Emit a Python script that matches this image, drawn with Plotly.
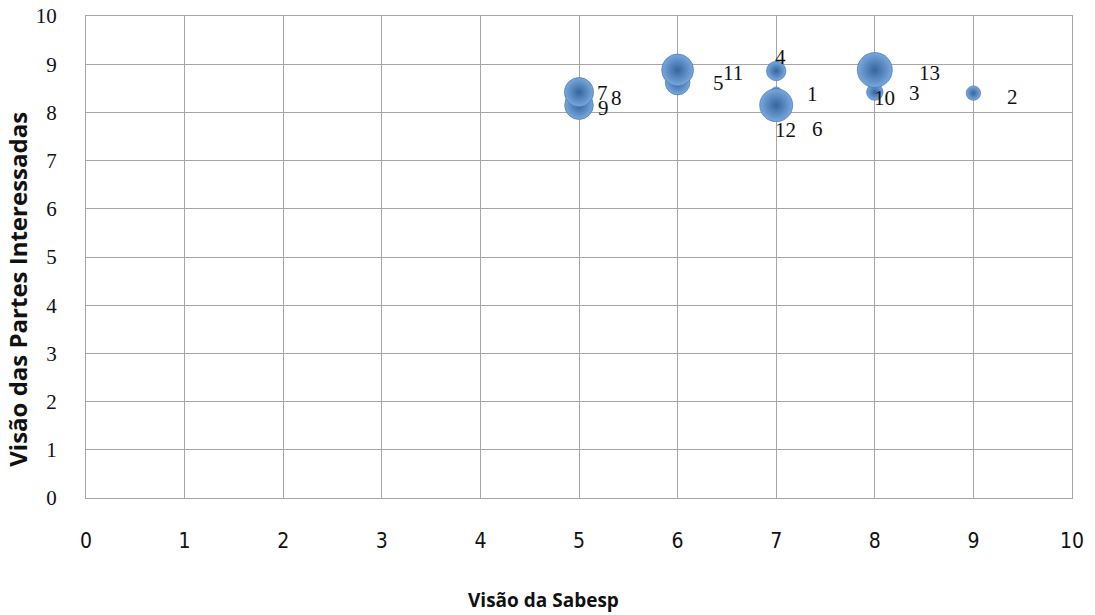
import plotly.graph_objects as go

# Data
labels = ["1", "2", "3", "4", "5", "6", "7", "8", "9", "10", "11", "12", "13"]
sabesp = [7, 9, 8, 7, 6, 7, 5, 5, 5, 8, 6, 7, 8]
partes = [8.42, 8.40, 8.42, 8.86, 8.62, 8.14, 8.42, 8.30, 8.15, 8.42, 8.88, 8.15, 8.88]
peso = [0.9, 1.7, 1.5, 3.1, 5.0, 3.0, 7.0, 3.0, 6.7, 2.2, 8.3, 8.9, 10.0]

x_ticks = list(range(0, 11))
y_ticks = list(range(0, 11))
x_title = "Visão da Sabesp"
y_title = "Visão das Partes Interessadas"

# label offsets (pixels) for the data labels
label_shift = {
    "1": (36, -2), "2": (39, -4), "3": (40, -1), "4": (4, 14), "5": (41, 0),
    "6": (41, -23), "7": (23, -1), "8": (37, 0), "9": (24, -3), "10": (10, -6),
    "11": (55, -3), "12": (9, -25), "13": (55, -3),
}

order = sorted(range(len(peso)), key=lambda i: peso[i])
xs = [sabesp[i] for i in order]
ys = [partes[i] for i in order]
ps = [peso[i] for i in order]
ls = [labels[i] for i in order]

fig = go.Figure()
fig.add_trace(go.Scatter(
    x=xs, y=ys, mode="markers",
    marker=dict(
        size=ps, sizemode="area", sizeref=2 * max(peso) / (35 ** 2), sizemin=2,
        color="#78a8de",
        gradient=dict(type="radial", color="#36659e"),
        line=dict(width=0.6, color="#3d6da6"),
        opacity=1,
    ),
    hoverinfo="text", text=ls, showlegend=False,
))

for lab, xv, yv in zip(labels, sabesp, partes):
    dx, dy = label_shift[lab]
    fig.add_annotation(
        x=xv, y=yv, text=lab, showarrow=False, xshift=dx, yshift=dy,
        font=dict(family="Liberation Serif, DejaVu Serif, serif", size=21, color="#111111"),
    )

title_font = dict(family="Open Sans, sans-serif", color="#111")
fig.add_annotation(
    xref="paper", yref="paper", x=0.4645, y=-0.2116, xanchor="center", yanchor="middle",
    text="<b>" + x_title + "</b>", showarrow=False, font=dict(size=19, **title_font),
)
fig.add_annotation(
    xref="paper", yref="paper", x=-0.069, y=0.434, xanchor="center", yanchor="middle",
    text="<b>" + y_title + "</b>", showarrow=False, textangle=-90,
    font=dict(size=24, **title_font),
)

grid = "#a6a6a6"
fig.update_layout(
    width=1095, height=615,
    margin=dict(l=86, r=23, t=16, b=117),
    paper_bgcolor="white", plot_bgcolor="white",
    xaxis=dict(
        range=[0, 10], tickvals=x_ticks, ticktext=[str(v) for v in x_ticks],
        showgrid=True, gridcolor=grid, gridwidth=1, zeroline=False,
        showline=True, linecolor=grid, mirror=True, ticks="", automargin=False,
        ticklabeloverflow="allow",
        tickfont=dict(family="DejaVu Sans Condensed, Liberation Sans Narrow, Open Sans, sans-serif", size=21, color="#111"),
        ticklabelstandoff=24,
    ),
    yaxis=dict(
        range=[0, 10], tickvals=y_ticks, ticktext=[str(v) for v in y_ticks],
        showgrid=True, gridcolor=grid, gridwidth=1, zeroline=False,
        showline=True, linecolor=grid, mirror=True, ticks="", automargin=False,
        ticklabeloverflow="allow",
        tickfont=dict(family="Liberation Serif, DejaVu Serif, serif", size=21, color="#111"),
        ticklabelstandoff=24,
    ),
)

fig.write_html(
    "out.html",
    config={"displayModeBar": False},
    post_script="document.body.style.margin='0';document.body.style.overflow='hidden';",
)
